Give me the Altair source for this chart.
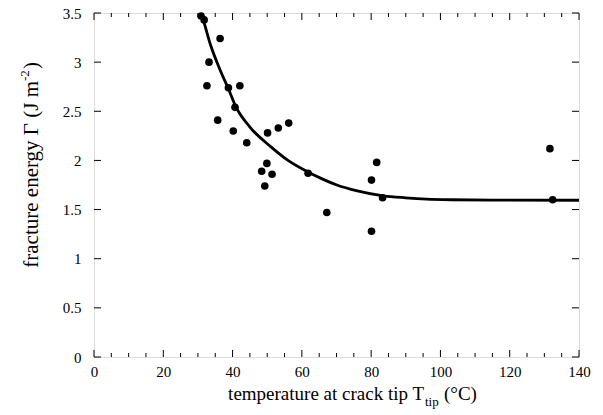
import altair as alt
import pandas as pd

# measured data points
temp = [30.9, 31.8, 36.4, 33.2, 32.6, 38.8, 42.1, 40.7, 35.7, 40.2, 50.1, 53.2, 56.2,
        44.1, 49.9, 48.4, 51.4, 49.3, 61.8, 67.2, 81.6, 80.1, 83.3, 80.1, 131.6, 132.4]
gamma = [3.47, 3.43, 3.24, 3.00, 2.76, 2.74, 2.76, 2.54, 2.41, 2.30, 2.28, 2.33, 2.38,
         2.18, 1.97, 1.89, 1.86, 1.74, 1.87, 1.47, 1.98, 1.80, 1.62, 1.28, 2.12, 1.60]

# fitted curve
fit_t = [30.2, 31.1, 33.5, 36.4, 38.8, 40.9, 45.0, 51.0, 56.0, 61.9, 66.0, 70.1, 76.0,
         83.5, 90.0, 96.0, 103.0, 115.0, 140.0]
fit_g = [3.56, 3.48, 3.19, 2.92, 2.73, 2.55, 2.34, 2.14, 2.00, 1.88, 1.81, 1.75, 1.69,
         1.64, 1.62, 1.607, 1.60, 1.596, 1.595]

x_ticks = list(range(0, 145, 5))
x_major = list(range(0, 160, 20))
y_ticks = [0, 0.5, 1, 1.5, 2, 2.5, 3, 3.5]

W, H = 485, 344
FONT = "Liberation Serif"

xs = alt.Scale(domain=[0, 140], nice=False)
ys = alt.Scale(domain=[0, 3.5], nice=False)

xaxis = alt.Axis(values=x_major, labelFont=FONT, labelFontSize=15, labelColor="black",
                 ticks=False, tickSize=0, domain=False, grid=False, labelPadding=7,
                 title=None, labelFlush=False, labelExpr="toString(datum.value)")
yaxis = alt.Axis(values=y_ticks, labelFont=FONT, labelFontSize=15, labelColor="black",
                 ticks=False, tickSize=0, domain=False, grid=False, labelPadding=13,
                 title=None, labelFlush=False, labelExpr="toString(datum.value)")

pts_df = pd.DataFrame({"T": temp, "G": gamma})
fit_df = pd.DataFrame({"T": fit_t, "G": fit_g})

points = alt.Chart(pts_df).mark_circle(size=58, color="black", opacity=1).encode(
    x=alt.X("T:Q", scale=xs, axis=xaxis),
    y=alt.Y("G:Q", scale=ys, axis=yaxis),
)

fit = alt.Chart(fit_df).mark_line(color="black", strokeWidth=2.8, clip=True,
                                  interpolate="monotone").encode(
    x=alt.X("T:Q", scale=xs),
    y=alt.Y("G:Q", scale=ys),
)

xt_df = pd.DataFrame({"T": x_ticks,
                      "L": [7 if t % 20 == 0 else 4 for t in x_ticks]})
minor_df = xt_df[xt_df.L == 4]
major_df = xt_df[xt_df.L == 7]

def xtick_layers(df, length):
    bot = alt.Chart(df).mark_rule(color="black", strokeWidth=1).encode(
        x=alt.X("T:Q", scale=xs), y=alt.value(H), y2=alt.value(H - length))
    top = alt.Chart(df).mark_rule(color="black", strokeWidth=1).encode(
        x=alt.X("T:Q", scale=xs), y=alt.value(0), y2=alt.value(length))
    return [bot, top]

yt_df = pd.DataFrame({"G": y_ticks})
ytick_left = alt.Chart(yt_df).mark_rule(color="black", strokeWidth=1).encode(
    y=alt.Y("G:Q", scale=ys), x=alt.value(0), x2=alt.value(7))
ytick_right = alt.Chart(yt_df).mark_rule(color="black", strokeWidth=1).encode(
    y=alt.Y("G:Q", scale=ys), x=alt.value(W), x2=alt.value(W - 7))

# axis titles as text (with sub/superscripts)
def txt(s, x, y, size, align="left", angle=0, baseline="alphabetic"):
    kw = dict(font=FONT, fontSize=size, color="black", align=align, baseline=baseline)
    if angle:
        kw["angle"] = angle
    return alt.Chart(pd.DataFrame({"s": [s]})).mark_text(**kw).encode(
        x=alt.value(x), y=alt.value(y), text="s:N")

XT_END = 330   # local x where "T" ends
XT_BASE = 387  # local baseline of x title
xtitle = [
    txt("temperature at crack tip T", XT_END, XT_BASE, 19, align="right"),
    txt("tip", XT_END + 1, XT_BASE + 6, 13, align="left"),
    txt("(°C)", XT_END + 20, XT_BASE, 19, align="left"),
]

YT_X = -56     # local x of y title baseline
YT_Y1 = 68     # local y where "(J m" ends
ytitle = [
    txt("fracture energy Γ (J m", YT_X, YT_Y1, 21, align="right", angle=270),
    txt("-2", YT_X - 9, YT_Y1, 13, align="left", angle=270),
    txt(")", YT_X, YT_Y1 - 12, 21, align="left", angle=270),
]

layers = [fit, points] + xtick_layers(minor_df, 4) + xtick_layers(major_df, 7) + \
         [ytick_left, ytick_right] + xtitle + ytitle

chart = alt.layer(*layers).properties(
    width=W, height=H,
    autosize=alt.AutoSizeParams(type="none"),
    padding={"left": 94, "top": 13, "right": 24, "bottom": 58},
).configure_view(stroke="black", strokeWidth=1.5).configure(background="white")

chart.save("out.html", embed_options={"renderer": "svg", "actions": False})
